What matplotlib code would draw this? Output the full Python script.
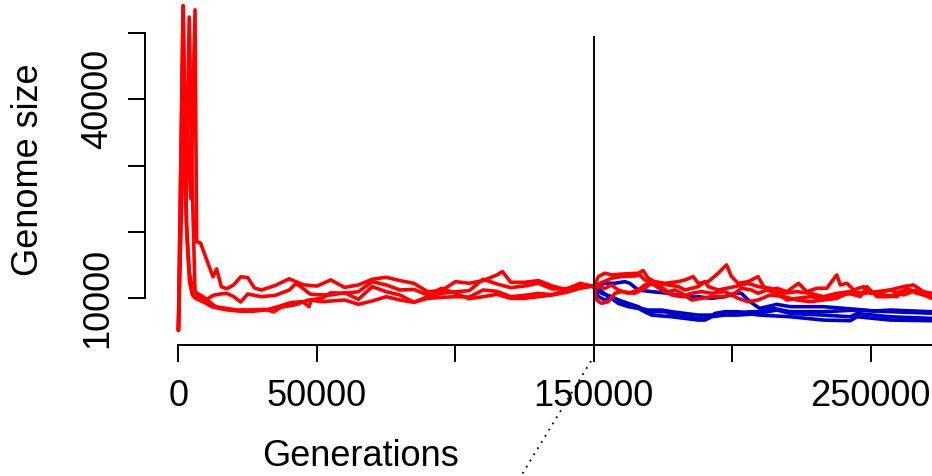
import numpy as np
import matplotlib
matplotlib.use("Agg")
import matplotlib.pyplot as plt
from matplotlib.lines import Line2D

plt.rcParams['font.family'] = ['Liberation Sans', 'DejaVu Sans']

# ---------------- data ----------------
# Phase 1 (0 - 150000 generations), four red replicate lines
red1_p1_gen = [0, 1700, 3000, 4000, 5000, 6000, 7400, 10000, 12000, 15000, 17700, 22400, 27000,
               31700, 36000, 40500, 44800, 47200, 47900, 52000, 55000, 60000, 65000, 70000, 75000,
               80000, 85000, 90000, 95000, 100000, 105000, 110000, 115000, 120000, 125000, 130000,
               135000, 140000, 145000, 150000]
red1_p1_val = [5150, 54100, 20000, 12500, 10500, 10000, 9700, 9200, 8700, 8400, 8200, 8000, 8000,
               8200, 8700, 9300, 9450, 8700, 9700, 10000, 10800, 10700, 10950, 12470, 11970,
               11210, 11300, 10450, 11460, 10700, 9900, 10200, 10550, 9950, 9950, 10200,
               10450, 10850, 11460, 11820]

red2_p1_gen = [0, 1700, 2800, 3900, 5000, 6000, 7000, 8500, 10000, 12500, 15000, 17500, 20000,
               22500, 25000, 30000, 35000, 40000, 42500, 45000, 47500, 50000, 55000, 60000, 65000,
               70000, 75000, 80000, 85000, 90000, 95000, 100000, 105000, 110000, 115000, 120000,
               125000, 130000, 135000, 140000, 145000, 150000]
red2_p1_val = [5150, 54100, 24800, 52400, 27000, 10900, 10300, 10000, 9700, 10400, 10600, 10700, 10200,
               9400, 10600, 10200, 10400, 11200, 12200, 11450, 10600, 10500, 10450, 10800, 9800,
               11720, 10950, 10450, 9350, 10200, 10700, 10950, 11100, 12830, 12120, 11560,
               11820, 12220, 11360, 11410, 11970, 11820]

red3_p1_gen = [0, 1500, 3000, 4500, 6000, 6600, 8000, 10000, 12500, 13800, 15500, 17500, 20000,
               22500, 25000, 27500, 30000, 35000, 40000, 45000, 50000, 55000, 60000, 65000, 70000,
               75000, 80000, 85000, 90000, 95000, 100000, 105000, 110000, 115000, 117000, 120000,
               125000, 130000, 135000, 140000, 145000, 150000]
red3_p1_val = [5150, 30000, 38000, 25000, 53500, 18500, 18300, 16000, 13200, 14400, 11700, 11400, 12000,
               13200, 13100, 11500, 11200, 11900, 12900, 12000, 11800, 12730, 11600, 11970, 12830,
               13130, 12630, 12220, 10950, 11100, 12470, 12220, 12630, 13480, 13990, 12370,
               12370, 12630, 11820, 11260, 12220, 11720]

red4_p1_gen = [0, 1000, 1700, 2800, 3900, 5000, 6500, 8900, 13400, 20900, 26900, 31400, 34400,
               37000, 42400, 46900, 52000, 55000, 60000, 65000, 70000, 75000, 80000, 85000, 90000,
               95000, 100000, 105000, 110000, 115000, 120000, 125000, 130000, 135000, 140000,
               145000, 150000]
red4_p1_val = [5150, 24000, 40000, 22000, 14000, 11500, 10800, 10200, 8700, 8200, 8200, 8300, 7900,
               8600, 9000, 9700, 9450, 9550, 9700, 9050, 9550, 10200, 9700, 9350, 9950,
               10100, 10200, 10150, 11210, 11000, 10200, 10400, 10700, 10500, 11210,
               12020, 11720]

# Phase 2 (after 150000 generations): red continuations
red1_p2_gen = [151000, 152800, 155200, 157600, 160000, 164800, 168400, 170800, 174500, 178100,
               181700, 185300, 188900, 192500, 197300, 202100, 205700, 209300, 213700, 218500,
               223300, 228100, 232900, 237700, 241400, 245000, 249800, 254600, 259400, 263000,
               266600, 272000, 275000]
red1_p2_val = [9700, 9190, 9440, 10710, 10960, 10710, 11470, 12220, 11210, 10460,
               10200, 10710, 10960, 10710, 10960, 9950, 9440, 9700, 10460, 10200,
               9700, 9440, 9700, 9950, 10710, 10460, 10960, 10460, 10200, 11470,
               10710, 10200, 10200]

red2_p2_gen = [152200, 156400, 160000, 164800, 166600, 168400, 170800, 176900, 180500, 182900,
               187700, 190100, 191300, 194900, 200900, 205700, 209300, 213700, 218500, 223300,
               228100, 232900, 237700, 242600, 247400, 252200, 257000, 261800, 266600, 272000,
               275000]
red2_p2_val = [12220, 12980, 13230, 13330, 13490, 12730, 12220, 11970, 11720, 11210,
               11720, 12470, 11720, 11210, 11720, 12220, 11720, 11470, 10710, 10960,
               10710, 10200, 10710, 10960, 10710, 10960, 11210, 10460, 11210, 10460,
               10500]

red3_p2_gen = [151600, 154000, 156400, 161200, 166000, 167800, 169600, 172000, 175700, 180500,
               182900, 185900, 187700, 191300, 194900, 197900, 199700, 202100, 205700, 209300,
               211300, 213700, 216100, 219700, 223900, 226900, 230500, 234100, 237700, 239000,
               241400, 243800, 247400, 249800, 254600, 259400, 261800, 265400, 269000, 272000,
               275000]
red3_p2_val = [13230, 13740, 13490, 13640, 13740, 14140, 12980, 12470, 12220, 12470,
               12730, 13230, 12220, 12470, 13740, 15000, 13230, 12220, 12470, 13230,
               11720, 11210, 11470, 10960, 12220, 10960, 11470, 11470, 13490, 11970,
               12220, 11210, 11720, 10710, 10960, 11470, 11720, 11970, 10960, 10710,
               10700]

red4_p2_gen = [154000, 156400, 158800, 162400, 166000, 168400, 172000, 176900, 179300, 181700,
               185300, 188900, 192500, 197300, 200900, 203300, 206900, 209300, 212500, 216100,
               219700, 223300, 228100, 232900, 237700, 242600, 246200, 248600, 252200, 257000,
               260600, 264200, 267800, 272000, 275000]
red4_p2_val = [11470, 11970, 11210, 10710, 11210, 11970, 12220, 10960, 11210, 10710,
               9700, 9950, 10200, 10200, 10710, 11470, 11210, 10710, 11210, 10710,
               9700, 9950, 10200, 9950, 10200, 10710, 10200, 11720, 10200, 10200,
               10960, 11210, 10710, 9950, 10000]

# Phase 2 blue lines (start at 150000)
blue1_gen = [150000, 154000, 157600, 161200, 163000, 166000, 170800, 176900, 182900, 187700,
             192500, 197300, 200900, 203300, 205700, 208100, 209900, 216100, 220900, 232900,
             245000, 251000, 257000, 272000, 275000]
blue1_val = [11720, 12220, 12220, 12470, 12220, 11210, 10960, 10710, 10200, 10200,
             9950, 10200, 10710, 10710, 9700, 8940, 8430, 9040, 8690, 8690,
             8280, 8030, 8180, 7930, 7900]

blue2_gen = [150000, 151600, 154000, 156400, 158800, 162400, 166000, 169600, 172000, 175700,
             179300, 182900, 187700, 191300, 193700, 197300, 202100, 205700, 209300, 216100,
             220900, 232900, 242600, 245000, 257000, 272000, 275000]
blue2_val = [11720, 10200, 9700, 9950, 9190, 8690, 8430, 7670, 7930, 7930,
             7420, 7170, 6920, 6920, 7670, 7930, 7930, 7670, 7670, 8180,
             7670, 7420, 7170, 7670, 7170, 6920, 6900]

blue3_gen = [150000, 152800, 156400, 160000, 163600, 167200, 169600, 174500, 178100, 182900,
             187700, 192500, 197300, 206900, 209900, 214900, 220900, 232900, 245000, 257000,
             272000, 275000]
blue3_val = [11720, 10710, 10200, 9440, 8940, 8430, 8180, 8180, 7930, 7670,
             7420, 7420, 7670, 7930, 7930, 8430, 7930, 7930, 8180, 7930,
             7700, 7700]

blue4_gen = [150000, 152200, 155200, 158800, 162400, 166000, 170800, 178100, 182900, 187700,
             190100, 192500, 197300, 202100, 206900, 209900, 220900, 226900, 232900, 242600,
             245000, 251000, 257000, 272000, 275000]
blue4_val = [11720, 11210, 10200, 9700, 9190, 8690, 7420, 7170, 6920, 6670,
             6670, 7170, 7420, 7420, 7570, 7420, 7170, 6920, 6670, 6570,
             7170, 6920, 6670, 6570, 6570]

split_generation = 150000
x_ticks = [0, 50000, 100000, 150000, 200000, 250000]
x_ticklabels = ['0', '50000', '', '150000', '', '250000']
y_ticks = [10000, 20000, 30000, 40000, 50000]
y_ticklabels = ['10000', '', '', '40000', '']

# ---------------- figure ----------------
W, H = 932, 476
fig = plt.figure(figsize=(W / 100, H / 100), dpi=100)

ax_left, ax_right, ax_bottom = 145, 932, 345
ax = fig.add_axes([ax_left / W, (H - ax_bottom) / H, (ax_right - ax_left) / W, ax_bottom / H])

# scales derived from reference pixel positions of ticks
px_per_gen = (870.8 - 178.4) / 250000.0
x0_px = 178.4
gen_per_px = 1.0 / px_per_gen
ax.set_xlim((ax_left - x0_px) * gen_per_px, (ax_right - x0_px) * gen_per_px)
val_per_px = 10000 / 66.25
ax.set_ylim(10000 - (ax_bottom - 298) * val_per_px, 10000 + 298 * val_per_px)

RED = '#FF0000'
BLUE = '#0000CD'
lw = 2.6

for g, v in [(blue1_gen, blue1_val), (blue2_gen, blue2_val),
             (blue3_gen, blue3_val), (blue4_gen, blue4_val)]:
    ax.plot(g, v, color=BLUE, lw=lw, solid_joinstyle='round', solid_capstyle='round')

for g1, v1, g2, v2 in [(red1_p1_gen, red1_p1_val, red1_p2_gen, red1_p2_val),
                       (red2_p1_gen, red2_p1_val, red2_p2_gen, red2_p2_val),
                       (red3_p1_gen, red3_p1_val, red3_p2_gen, red3_p2_val),
                       (red4_p1_gen, red4_p1_val, red4_p2_gen, red4_p2_val)]:
    ax.plot(list(g1) + list(g2), list(v1) + list(v2), color=RED, lw=lw,
            solid_joinstyle='round', solid_capstyle='round')

# vertical line at the split
ytop_line = 10000 + (298 - 37) * val_per_px
ax.plot([split_generation, split_generation], [ax.get_ylim()[0], ytop_line],
        color='black', lw=1.4)

# spines / axes
for s in ['top', 'right']:
    ax.spines[s].set_visible(False)
ax.spines['left'].set_bounds(10000, 50000)
ax.spines['bottom'].set_bounds(0, ax.get_xlim()[1])
for s in ['left', 'bottom']:
    ax.spines[s].set_linewidth(1.4)

ax.set_xticks(x_ticks)
ax.set_xticklabels(x_ticklabels)
ax.set_yticks(y_ticks)
ax.set_yticklabels(y_ticklabels, rotation=90, va='center')
ax.tick_params(axis='both', length=12.2, width=1.4, labelsize=26)
ax.tick_params(axis='x', pad=12)
ax.tick_params(axis='y', pad=9.5)

# axis titles
fig.text(361 / W, 1 - 456 / H, 'Generations', ha='center', va='center', fontsize=26)
fig.text(29 / W, 1 - 170 / H, 'Genome size', ha='center', va='center', rotation=90, fontsize=26)

# dotted connector
fig.add_artist(Line2D([591 / W, 521 / W], [1 - 361 / H, 1 - 476 / H], transform=fig.transFigure,
                      color='black', lw=1.3, linestyle=(0, (1, 3))))

fig.savefig('out.png', dpi=100)
